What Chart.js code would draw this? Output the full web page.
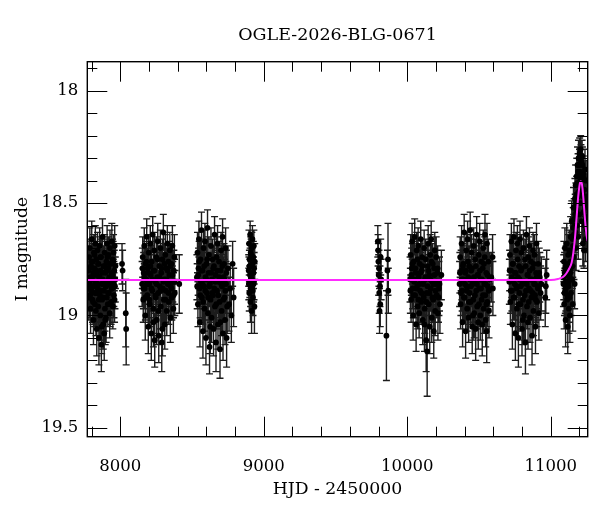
<!DOCTYPE html>
<html>
<head>
<meta charset="utf-8">
<script src="https://cdn.jsdelivr.net/npm/chart.js@4.4.1/dist/chart.umd.min.js"></script>
<style>
  html, body { margin: 0; padding: 0; background: #fff; }
  canvas { display: block; }
</style>
</head>
<body>
<canvas id="c" width="600" height="512"></canvas>
<script>
// ---------- DATA ----------
const chartTitle = 'OGLE-2026-BLG-0671';
const xTitle = 'HJD - 2450000';
const yTitle = 'I magnitude';
const xMajorTicks = [8000, 9000, 10000, 11000];
const yMajorTicks = [18, 18.5, 19, 19.5];

// observing seasons: [HJD-2450000, I mag, error]
const season1 = [[7778,18.80,.09],[7781,18.92,.10],[7783,18.74,.08],[7786,18.86,.09],[7788,18.70,.09],[7791,18.83,.08],[7793,18.97,.11],[7796,18.78,.09],[7798,18.89,.09],[7801,18.66,.08],[7803,18.84,.09],[7806,18.93,.10],[7808,18.76,.08],[7811,18.81,.09],[7813,19.02,.11],[7816,18.72,.08],[7818,18.87,.09],[7821,18.79,.09],[7823,18.95,.10],[7826,18.68,.08],[7828,18.85,.09],[7831,18.90,.10],[7833,18.75,.08],[7836,19.06,.12],[7838,18.82,.09],[7841,18.71,.08],[7843,18.88,.09],[7846,18.96,.10],[7848,18.77,.09],[7851,19.10,.12],[7853,18.83,.09],[7856,18.69,.08],[7858,18.91,.10],[7861,19.00,.11],[7863,18.80,.09],[7866,18.74,.08],[7868,19.13,.12],[7871,18.86,.09],[7873,18.93,.10],[7876,18.65,.08],[7878,18.84,.09],[7881,19.04,.11],[7883,18.78,.09],[7886,18.89,.09],[7888,19.08,.12],[7891,18.72,.08],[7893,18.97,.10],[7896,18.81,.09],[7898,18.87,.09],[7901,19.01,.11],[7903,18.76,.09],[7906,18.92,.10],[7908,18.68,.08],[7911,18.85,.09],[7913,18.95,.10],[7916,18.79,.09],[7918,18.73,.08],[7921,18.90,.10],[7923,18.83,.09],[7926,18.99,.11],[7928,18.70,.08],[7931,18.86,.09],[7933,18.77,.09],[7936,18.94,.10],[7938,18.81,.09],[7941,18.67,.08],[7943,18.88,.09],[7946,18.75,.09],[7948,18.96,.10],[7951,18.84,.09],[7953,18.72,.08],[7956,18.91,.10],[7958,18.80,.09],[7961,18.69,.09],[7963,18.87,.10],[7966,18.78,.10],[8012,18.77,.09],[8016,18.80,.09],[8038,18.99,.15],[8041,19.06,.16],
  [7780,18.88,.09],[7785,18.79,.09],[7790,18.91,.10],[7795,18.84,.09],[7800,18.76,.09],[7805,18.87,.09],[7810,18.94,.10],[7815,18.82,.09],[7820,18.73,.08],[7825,18.90,.10],[7830,18.98,.11],[7835,18.80,.09],[7840,18.86,.09],[7845,18.77,.09],[7850,18.93,.10],[7855,18.83,.09],[7860,18.74,.09],[7865,18.89,.10],[7870,19.05,.12],[7875,18.81,.09],[7880,18.92,.10],[7885,18.85,.09],[7890,18.78,.09],[7895,19.02,.11],[7900,18.87,.09],[7905,18.80,.09],[7910,18.74,.08],[7915,18.90,.10],[7920,18.84,.09],[7925,18.77,.09],[7930,18.95,.10],[7935,18.83,.09],[7940,18.88,.09],[7945,18.82,.09],[7950,18.76,.09],[7955,18.86,.10],[7960,18.93,.10],[7965,18.84,.10]];
const season2 = [[8152,18.86,.10],[8156,18.74,.09],[8160,18.93,.10],[8163,18.81,.09],[8167,18.69,.08],[8170,18.88,.09],[8174,19.00,.11],[8177,18.77,.09],[8181,18.84,.09],[8184,18.65,.08],[8188,18.91,.10],[8191,18.79,.09],[8195,19.05,.12],[8198,18.72,.08],[8202,18.86,.09],[8205,18.95,.10],[8209,18.68,.08],[8212,18.82,.09],[8216,19.08,.12],[8219,18.76,.09],[8223,18.89,.09],[8226,18.64,.08],[8230,18.97,.11],[8233,18.80,.09],[8237,18.71,.08],[8240,19.11,.12],[8244,18.85,.09],[8247,18.92,.10],[8251,18.74,.09],[8254,19.02,.11],[8258,18.83,.09],[8261,18.67,.08],[8265,18.90,.10],[8268,19.09,.12],[8272,18.78,.09],[8275,18.87,.09],[8279,18.70,.08],[8282,18.96,.10],[8286,18.81,.09],[8289,19.12,.13],[8293,18.75,.09],[8296,18.88,.10],[8300,18.63,.08],[8303,18.93,.10],[8307,18.84,.09],[8310,19.04,.11],[8314,18.73,.09],[8317,18.89,.09],[8321,18.79,.09],[8324,18.98,.11],[8328,18.68,.08],[8331,18.86,.09],[8335,18.76,.09],[8338,18.94,.10],[8342,18.82,.09],[8345,18.71,.08],[8349,19.01,.11],[8352,18.87,.09],[8356,18.77,.09],[8359,18.92,.10],[8363,18.69,.09],[8366,18.85,.09],[8370,18.97,.11],[8373,18.80,.09],[8377,18.74,.10],[8380,18.90,.10],[8411,18.86,.13],
  [8154,18.79,.09],[8161,18.88,.09],[8168,18.83,.09],[8175,18.92,.10],[8182,18.76,.09],[8189,18.86,.09],[8196,18.81,.09],[8203,18.93,.10],[8210,18.78,.09],[8217,18.88,.09],[8224,18.84,.09],[8231,19.03,.11],[8238,18.80,.09],[8245,18.91,.10],[8252,18.86,.09],[8259,18.75,.09],[8266,18.98,.11],[8273,18.83,.09],[8280,18.89,.09],[8287,18.79,.09],[8294,19.06,.12],[8301,18.85,.09],[8308,18.77,.09],[8315,18.93,.10],[8322,18.84,.09],[8329,18.80,.09],[8336,18.90,.10],[8343,18.86,.09],[8350,18.78,.09],[8357,18.88,.10],[8364,18.82,.09],[8371,18.91,.10],[8378,18.85,.10]];
const season3 = [[8534,18.83,.10],[8538,18.72,.09],[8541,18.95,.10],[8545,18.79,.09],[8548,18.66,.08],[8552,18.88,.09],[8555,19.03,.11],[8559,18.75,.09],[8562,18.85,.09],[8566,18.62,.08],[8569,18.92,.10],[8573,18.80,.09],[8576,19.07,.12],[8580,18.70,.08],[8583,18.87,.09],[8587,18.97,.10],[8590,18.67,.08],[8594,18.83,.09],[8597,19.10,.12],[8601,18.77,.09],[8604,18.90,.10],[8608,18.61,.08],[8611,18.99,.11],[8615,18.81,.09],[8618,18.73,.08],[8622,19.14,.12],[8625,18.86,.09],[8629,18.93,.10],[8632,18.69,.08],[8636,19.01,.11],[8639,18.84,.09],[8643,18.75,.09],[8646,18.91,.10],[8650,19.06,.12],[8653,18.78,.09],[8657,18.64,.08],[8660,18.96,.10],[8664,18.82,.09],[8667,19.12,.13],[8671,18.74,.09],[8674,18.89,.10],[8678,18.68,.08],[8681,19.04,.11],[8685,18.85,.09],[8688,18.76,.09],[8692,18.94,.10],[8695,19.15,.13],[8699,18.80,.09],[8702,18.71,.08],[8706,18.98,.11],[8709,18.87,.09],[8713,18.65,.08],[8716,19.08,.12],[8720,18.83,.09],[8723,18.77,.09],[8727,18.92,.10],[8730,19.02,.11],[8734,18.70,.09],[8737,18.86,.10],[8741,19.10,.13],[8750,18.79,.10],[8758,18.95,.12],[8766,18.88,.11],[8774,19.00,.12],[8783,18.77,.10],[8790,18.92,.13],
  [8536,18.87,.10],[8543,18.82,.09],[8550,18.76,.09],[8557,18.91,.10],[8564,18.80,.09],[8571,18.86,.09],[8578,18.94,.10],[8585,18.78,.09],[8592,18.89,.09],[8599,18.84,.09],[8606,18.75,.09],[8613,18.92,.10],[8620,18.87,.09],[8627,19.05,.12],[8634,18.81,.09],[8641,18.90,.10],[8648,18.79,.09],[8655,18.88,.09],[8662,18.85,.09],[8669,18.95,.11],[8676,18.80,.09],[8683,18.91,.10],[8690,18.83,.09],[8697,19.03,.12],[8704,18.86,.09],[8711,18.78,.09],[8718,18.93,.10],[8725,18.84,.09],[8732,18.89,.10],[8739,18.81,.10],[8745,18.96,.12]];
const season4 = [[8895,18.80,.07],[8897,18.68,.06],[8899,18.90,.08],[8901,18.75,.07],[8903,18.85,.07],[8905,18.64,.06],[8907,18.94,.09],[8909,18.72,.07],[8911,18.83,.07],[8913,18.78,.07],[8915,18.98,.10],[8917,18.70,.07],[8919,18.87,.08],[8921,18.66,.06],[8923,18.81,.07],[8925,18.92,.08],[8927,18.74,.07],[8929,18.86,.08],[8931,18.69,.07],[8933,18.79,.07],[8935,18.96,.12],[8937,18.76,.08],
  [8896,18.86,.07],[8900,18.78,.07],[8904,18.82,.07],[8908,18.88,.08],[8912,18.73,.07],[8916,18.84,.07],[8920,18.77,.07],[8924,18.89,.08],[8928,18.81,.07],[8932,18.85,.08]];
const season5 = [[9795,18.67,.07],[9797,18.71,.07],[9799,18.76,.08],[9801,18.82,.09],[9803,18.79,.08],[9805,18.90,.09],[9807,18.98,.10],[9810,18.87,.09],[9812,18.95,.10],[9815,18.74,.08],[9818,18.84,.09],[9855,19.09,.20],[9862,18.80,.09],[9866,18.75,.16],[9868,18.89,.10]];
const season6 = [[10020,18.84,.10],[10024,18.73,.09],[10027,18.93,.10],[10031,18.79,.09],[10034,18.67,.08],[10038,18.88,.09],[10041,19.00,.11],[10045,18.76,.09],[10048,18.85,.09],[10052,18.65,.08],[10055,18.91,.10],[10059,18.81,.09],[10062,19.04,.12],[10066,18.71,.08],[10069,18.87,.09],[10073,18.96,.10],[10076,18.69,.08],[10080,18.83,.09],[10083,18.99,.11],[10087,18.77,.09],[10090,18.89,.10],[10094,18.66,.08],[10097,18.94,.10],[10101,18.80,.09],[10104,18.74,.08],[10108,19.02,.11],[10111,18.86,.09],[10115,18.92,.10],[10118,18.70,.08],[10122,18.97,.11],[10125,18.84,.09],[10129,18.75,.09],[10132,19.11,.14],[10136,18.90,.10],[10139,19.16,.20],[10143,18.78,.09],[10146,18.68,.08],[10150,18.95,.10],[10153,18.82,.09],[10157,19.05,.12],[10160,18.73,.09],[10164,18.88,.10],[10167,18.66,.08],[10171,19.01,.11],[10174,18.85,.09],[10178,18.77,.09],[10181,18.93,.10],[10185,19.07,.12],[10188,18.79,.09],[10192,18.71,.08],[10195,18.98,.11],[10199,18.86,.09],[10202,18.74,.09],[10206,18.91,.10],[10210,18.81,.10],[10214,18.99,.12],[10221,18.88,.12],[10228,18.95,.13],[10238,18.82,.11],
  [10022,18.89,.10],[10029,18.82,.09],[10036,18.77,.09],[10043,18.91,.10],[10050,18.84,.09],[10057,18.79,.09],[10064,18.88,.09],[10071,18.75,.09],[10078,18.93,.10],[10085,18.86,.09],[10092,18.81,.09],[10099,18.90,.10],[10106,18.78,.09],[10113,18.85,.09],[10120,19.04,.12],[10127,18.83,.09],[10134,18.94,.10],[10141,18.87,.09],[10148,18.80,.09],[10155,18.90,.10],[10162,18.84,.09],[10169,18.76,.09],[10176,18.92,.10],[10183,18.86,.09],[10190,18.82,.09],[10197,18.89,.10],[10204,18.85,.09],[10212,18.79,.10],[10218,18.92,.11],[10225,18.86,.12]];
const season7 = [[10365,18.86,.10],[10369,18.74,.09],[10372,18.95,.11],[10376,18.80,.09],[10379,18.68,.08],[10383,18.89,.09],[10386,19.03,.11],[10390,18.77,.09],[10393,18.84,.09],[10397,18.63,.08],[10400,18.92,.10],[10404,18.81,.09],[10407,19.07,.12],[10411,18.71,.08],[10414,18.87,.09],[10418,18.97,.10],[10421,18.66,.08],[10425,18.83,.09],[10428,19.01,.11],[10432,18.78,.09],[10435,18.90,.10],[10439,18.62,.08],[10442,18.94,.10],[10446,18.80,.09],[10449,18.72,.08],[10453,19.05,.12],[10456,18.86,.09],[10460,18.93,.10],[10463,18.69,.08],[10467,18.99,.11],[10470,18.85,.09],[10474,18.75,.09],[10477,19.06,.14],[10481,18.89,.10],[10484,18.64,.08],[10488,18.96,.10],[10491,18.82,.09],[10495,19.03,.12],[10498,18.73,.09],[10502,18.88,.10],[10505,18.67,.08],[10509,19.00,.11],[10512,18.84,.09],[10516,18.76,.09],[10519,18.93,.10],[10523,19.04,.14],[10526,18.79,.09],[10530,18.70,.08],[10533,18.97,.11],[10537,18.86,.09],[10540,18.74,.09],[10542,18.64,.09],[10544,18.91,.10],[10547,19.02,.12],[10551,18.81,.09],[10554,19.07,.14],[10556,18.68,.09],[10558,18.94,.11],[10562,18.87,.10],[10566,18.76,.10],[10570,18.98,.12],[10586,18.83,.11],[10595,18.74,.10],[10597,18.88,.12],
  [10367,18.81,.09],[10374,18.90,.10],[10381,18.84,.09],[10388,18.78,.09],[10395,18.92,.10],[10402,18.86,.09],[10409,18.80,.09],[10416,18.89,.10],[10423,18.76,.09],[10430,18.94,.10],[10437,18.84,.09],[10444,18.87,.09],[10451,18.79,.09],[10458,19.00,.11],[10465,18.83,.09],[10472,18.91,.10],[10479,18.78,.09],[10486,18.86,.09],[10493,18.82,.09],[10500,18.95,.10],[10507,18.80,.09],[10514,18.88,.10],[10521,18.84,.09],[10528,18.91,.10],[10535,18.77,.09],[10545,18.86,.09],[10552,18.95,.11],[10560,18.82,.10],[10568,18.89,.11],[10575,18.84,.12]];
const season8 = [[10712,18.85,.10],[10716,18.73,.09],[10719,18.94,.10],[10723,18.80,.09],[10726,18.67,.08],[10730,18.89,.09],[10733,19.04,.11],[10737,18.77,.09],[10740,18.84,.09],[10744,18.65,.08],[10747,18.92,.10],[10751,18.81,.09],[10754,19.08,.12],[10758,18.71,.08],[10761,18.87,.09],[10765,18.97,.10],[10768,18.68,.08],[10772,18.83,.09],[10775,19.10,.13],[10779,18.78,.09],[10782,18.90,.10],[10786,18.66,.08],[10789,18.95,.10],[10793,18.80,.09],[10796,18.72,.08],[10800,19.06,.12],[10803,18.86,.09],[10807,18.93,.10],[10810,18.70,.08],[10814,19.00,.11],[10817,18.85,.09],[10821,18.75,.09],[10824,19.12,.14],[10828,18.89,.10],[10831,18.64,.08],[10835,18.96,.10],[10838,18.82,.09],[10842,19.03,.12],[10845,18.74,.09],[10849,18.88,.10],[10852,18.69,.08],[10856,19.01,.11],[10859,18.84,.09],[10863,18.76,.09],[10866,18.92,.10],[10870,19.09,.13],[10873,18.79,.09],[10877,18.71,.08],[10880,18.98,.11],[10884,18.86,.09],[10887,18.73,.09],[10891,18.91,.10],[10894,19.05,.12],[10898,18.81,.09],[10901,18.68,.09],[10905,18.94,.11],[10909,18.87,.10],[10913,18.77,.10],[10918,18.99,.12],[10924,18.83,.11],[10930,18.90,.12],[10962,18.92,.13],[10966,18.87,.12],[10972,18.82,.11],
  [10714,18.80,.09],[10721,18.89,.10],[10728,18.83,.09],[10735,18.77,.09],[10742,18.92,.10],[10749,18.86,.09],[10756,18.81,.09],[10763,18.88,.09],[10770,18.75,.09],[10777,18.95,.10],[10784,18.84,.09],[10791,18.87,.09],[10798,18.79,.09],[10805,19.02,.11],[10812,18.85,.09],[10819,18.91,.10],[10826,18.78,.09],[10833,18.86,.09],[10840,18.82,.09],[10847,18.94,.10],[10854,18.80,.09],[10861,18.89,.10],[10868,18.84,.09],[10875,18.90,.10],[10882,18.77,.09],[10889,18.86,.09],[10896,18.93,.10],[10903,18.83,.10],[10911,18.88,.11],[10920,18.81,.11],[10935,18.86,.12]];
const season9 = [[11089,18.86,.10],[11092,18.76,.09],[11094,18.95,.11],[11097,18.81,.09],[11099,18.70,.09],[11102,18.89,.10],[11104,19.02,.12],[11107,18.78,.09],[11109,18.85,.10],[11112,18.68,.09],[11114,18.93,.10],[11117,18.80,.09],[11119,19.05,.12],[11122,18.73,.09],[11124,18.87,.10],[11127,18.97,.11],[11129,18.71,.09],[11132,18.83,.10],[11134,19.00,.12],[11137,18.76,.09],[11139,18.65,.09],[11142,18.90,.10],[11144,18.72,.09],[11147,18.58,.09],[11149,18.84,.10],[11152,18.66,.09],[11154,18.95,.12],[11157,18.61,.09],[11159,18.52,.09],[11162,18.74,.10],[11164,18.57,.09],[11167,18.86,.11],[11169,18.48,.09],[11172,18.63,.09],[11174,18.42,.09],[11177,18.70,.10],[11179,18.53,.09],[11182,18.38,.08],[11184,18.60,.09],[11187,18.33,.08],[11189,18.47,.09],[11192,18.65,.10],[11194,18.30,.08],[11197,18.41,.08],[11199,18.55,.09],[11202,18.28,.07],[11204,18.36,.08],[11207,18.50,.09],[11209,18.26,.06],[11212,18.43,.08],[11214,18.32,.07],[11217,18.58,.10],[11219,18.29,.07],[11222,18.46,.09],[11224,18.68,.10],[11227,18.37,.08],[11229,18.54,.09],[11232,18.71,.08],[11234,18.44,.09],[11237,18.60,.10],[11239,18.35,.09],[11242,18.52,.09],[11244,18.66,.10],[11247,18.40,.09],[11249,18.58,.10],[11252,18.47,.10],
  [11091,18.83,.10],[11096,18.90,.10],[11101,18.79,.09],[11106,18.88,.10],[11111,18.82,.09],[11116,18.91,.10],[11121,18.77,.09],[11126,18.85,.10],[11131,18.92,.11],[11136,18.81,.09],[11141,18.79,.10],[11146,18.71,.09],[11151,18.78,.10],[11156,18.69,.09],[11161,18.64,.09],[11166,18.60,.09],[11171,18.55,.09],[11176,18.50,.09],[11181,18.46,.08],[11186,18.41,.08],[11191,18.36,.08],[11196,18.45,.08],[11201,18.33,.07],[11206,18.40,.08],[11211,18.31,.07],[11216,18.38,.08],[11221,18.33,.08],[11226,18.47,.09],[11231,18.39,.08],[11236,18.49,.09],[11241,18.56,.09],[11246,18.50,.10],[11251,18.62,.10]];

// microlensing model curve
const modelHJD = [7770, 11000, 11050, 11088, 11110, 11130, 11146, 11158, 11170, 11181, 11192, 11200, 11206, 11211, 11216, 11222, 11228, 11234, 11240, 11246, 11252, 11258];
const modelMag = [18.842, 18.842, 18.838, 18.828, 18.812, 18.79, 18.765, 18.72, 18.65, 18.56, 18.47, 18.425, 18.406, 18.402, 18.41, 18.435, 18.48, 18.53, 18.58, 18.62, 18.65, 18.67];

// ---------- CHART ----------
const allObs = [].concat(season1, season2, season3, season4, season5, season6, season7, season8, season9);
const obsPoints = allObs.map(r => ({x: r[0], y: r[1], e: r[2]}));
const modelPoints = modelHJD.map((t, i) => ({x: t, y: modelMag[i]}));

const FONT = 'DejaVu Serif';

const errorBars = {
  id: 'errorBars',
  beforeDatasetsDraw(chart) {
    const {ctx, chartArea: a, scales: {x, y}} = chart;
    ctx.save();
    ctx.beginPath();
    ctx.rect(a.left, a.top, a.right - a.left, a.bottom - a.top);
    ctx.clip();
    ctx.strokeStyle = '#1c1c1c';
    ctx.lineWidth = 1.4;
    ctx.beginPath();
    obsPoints.forEach(p => {
      const px = x.getPixelForValue(p.x);
      const y1 = y.getPixelForValue(p.y - p.e);
      const y2 = y.getPixelForValue(p.y + p.e);
      ctx.moveTo(px, y1); ctx.lineTo(px, y2);
      ctx.moveTo(px - 3.5, y1); ctx.lineTo(px + 3.5, y1);
      ctx.moveTo(px - 3.5, y2); ctx.lineTo(px + 3.5, y2);
    });
    ctx.stroke();
    ctx.restore();
  }
};

const centerTitle = {
  id: 'centerTitle',
  afterLayout(chart) {
    const tb = chart.titleBlock;
    if (tb) {
      tb.left = chart.chartArea.left;
      tb.right = chart.chartArea.right;
      tb.width = tb.right - tb.left;
    }
  }
};

const frameTicks = {
  id: 'frameTicks',
  afterDraw(chart) {
    const {ctx, chartArea: a, scales: {x, y}} = chart;
    ctx.save();
    ctx.strokeStyle = '#000';
    ctx.lineWidth = 1;
    ctx.beginPath();
    for (let v = 7800; v <= 11200; v += 200) {
      const px = Math.round(x.getPixelForValue(v)) + 0.5;
      const len = xMajorTicks.includes(v) ? 20 : 10;
      ctx.moveTo(px, a.bottom); ctx.lineTo(px, a.bottom - len);
      ctx.moveTo(px, a.top); ctx.lineTo(px, a.top + len);
    }
    for (let k = 179; k <= 195; k++) {
      const v = k / 10;
      const py = Math.round(y.getPixelForValue(v)) + 0.5;
      const len = yMajorTicks.includes(v) ? 20 : 10;
      ctx.moveTo(a.left, py); ctx.lineTo(a.left + len, py);
      ctx.moveTo(a.right, py); ctx.lineTo(a.right - len, py);
    }
    ctx.stroke();
    ctx.lineWidth = 1.4;
    ctx.strokeRect(a.left, a.top, a.right - a.left, a.bottom - a.top);
    ctx.restore();
  }
};

new Chart(document.getElementById('c'), {
  type: 'scatter',
  data: {
    datasets: [
      {
        label: 'model',
        type: 'line',
        data: modelPoints,
        borderColor: '#ff2cff',
        borderWidth: 2,
        pointRadius: 0,
        fill: false,
        cubicInterpolationMode: 'monotone',
        order: 0
      },
      {
        label: 'OGLE',
        data: obsPoints,
        backgroundColor: '#000',
        borderWidth: 0,
        pointRadius: 2.9,
        order: 1
      }
    ]
  },
  options: {
    responsive: false,
    animation: false,
    devicePixelRatio: 1,
    layout: { padding: { left: 0, right: 12.3, top: 0, bottom: 0 } },
    plugins: {
      legend: { display: false },
      tooltip: { enabled: false },
      title: {
        display: true,
        text: chartTitle,
        color: '#000',
        font: { family: FONT, size: 17.5, weight: 'normal' },
        padding: { top: 24.7, bottom: 16 }
      }
    },
    scales: {
      x: {
        type: 'linear',
        min: 7770, max: 11258,
        grid: { display: false, drawTicks: false },
        border: { display: false },
        afterFit(s) { s.height = 75.3; },
        afterBuildTicks(s) { s.ticks = xMajorTicks.map(v => ({value: v})); },
        ticks: {
          autoSkip: false,
          maxRotation: 0,
          padding: 20,
          color: '#000',
          font: { family: FONT, size: 16.5 },
          callback: v => String(v)
        },
        title: {
          display: true,
          text: xTitle,
          color: '#000',
          font: { family: FONT, size: 17.3 },
          padding: { top: 0, bottom: 12 }
        }
      },
      y: {
        type: 'linear',
        reverse: true,
        min: 17.87, max: 19.54,
        grid: { display: false, drawTicks: false },
        border: { display: false },
        afterFit(s) { s.width = 87.3; },
        afterBuildTicks(s) { s.ticks = yMajorTicks.map(v => ({value: v})); },
        ticks: {
          autoSkip: false,
          padding: 9,
          color: '#000',
          font: { family: FONT, size: 16.5 },
          callback: v => String(v)
        },
        title: {
          display: true,
          text: yTitle,
          color: '#000',
          font: { family: FONT, size: 17 },
          padding: { top: 12, bottom: 0 }
        }
      }
    }
  },
  plugins: [errorBars, centerTitle, frameTicks]
});
</script>
</body>
</html>
